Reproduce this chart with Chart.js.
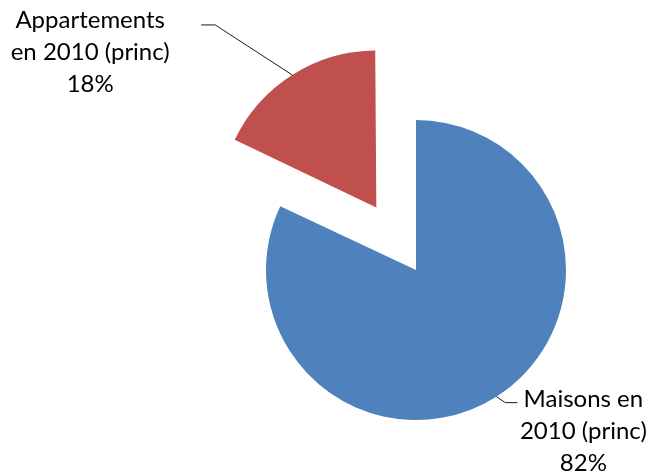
<!DOCTYPE html>
<html>
<head>
<meta charset="utf-8">
<script src="https://cdn.jsdelivr.net/npm/chart.js@4.4.1/dist/chart.umd.min.js"></script>
<style>
  html, body { margin: 0; padding: 0; background: #fff; overflow: hidden; width: 654px; height: 473px; }
  /* canvas is larger than the window so the exploded pie keeps its full radius */
  #wrap { position: absolute; left: 0; top: -28px; width: 832px; height: 596px; }
</style>
</head>
<body>
<div id="wrap"><canvas id="pieChart"></canvas></div>
<script>
const categories = ['Maisons en 2010 (princ)', 'Appartements en 2010 (princ)'];
const labelLines = [['Maisons en', '2010 (princ)'], ['Appartements', 'en 2010 (princ)']];
const shares = [82, 18];
// chart.js v4 moves an arc by offset / 4
const explode = [0, 296];

const sliceColors = ['#4F81BD', '#C0504D'];

// leader line elbow + text placement, relative to the slice edge
const leaderStyle = [
  { elbow: [9, 6], tail: 12, textDx: 66, textDy: 4 },
  { elbow: [-77, -50], tail: -14, textDx: -111, textDy: 3 }
];

const labelPlugin = {
  id: 'outsideLabels',
  afterDraw(chart) {
    const ctx = chart.ctx;
    const arcs = chart.getDatasetMeta(0).data;
    ctx.save();
    ctx.font = '24px Lato';
    ctx.fillStyle = '#000';
    ctx.textAlign = 'center';
    ctx.textBaseline = 'alphabetic';
    arcs.forEach((arc, i) => {
      const mid = (arc.startAngle + arc.endAngle) / 2;
      const off = (arc.options.offset || 0) / 4;
      const fix = 1 - Math.sin(Math.min(Math.PI, arc.circumference));
      const r = arc.outerRadius + off + off * fix;
      const px = arc.x + Math.cos(mid) * r;
      const py = arc.y + Math.sin(mid) * r;
      const s = leaderStyle[i];
      const ex = px + s.elbow[0], ey = py + s.elbow[1];
      const tx = ex + s.tail;
      ctx.strokeStyle = '#1a1a1a';
      ctx.lineWidth = 1;
      ctx.beginPath();
      ctx.moveTo(px, py);
      ctx.lineTo(ex, ey);
      ctx.lineTo(tx, ey);
      ctx.stroke();
      const lines = labelLines[i].concat([shares[i] + '%']);
      lines.forEach((t, k) => {
        ctx.fillText(t, tx + s.textDx, ey + s.textDy + k * 32);
      });
    });
    ctx.restore();
  }
};

new Chart(document.getElementById('pieChart').getContext('2d'), {
  type: 'pie',
  data: {
    labels: categories,
    datasets: [{
      data: shares,
      backgroundColor: sliceColors,
      borderWidth: 0,
      offset: explode
    }]
  },
  options: {
    responsive: true,
    maintainAspectRatio: false,
    animation: false,
    plugins: { legend: { display: false }, tooltip: { enabled: false } }
  },
  plugins: [labelPlugin]
});
</script>
</body>
</html>
